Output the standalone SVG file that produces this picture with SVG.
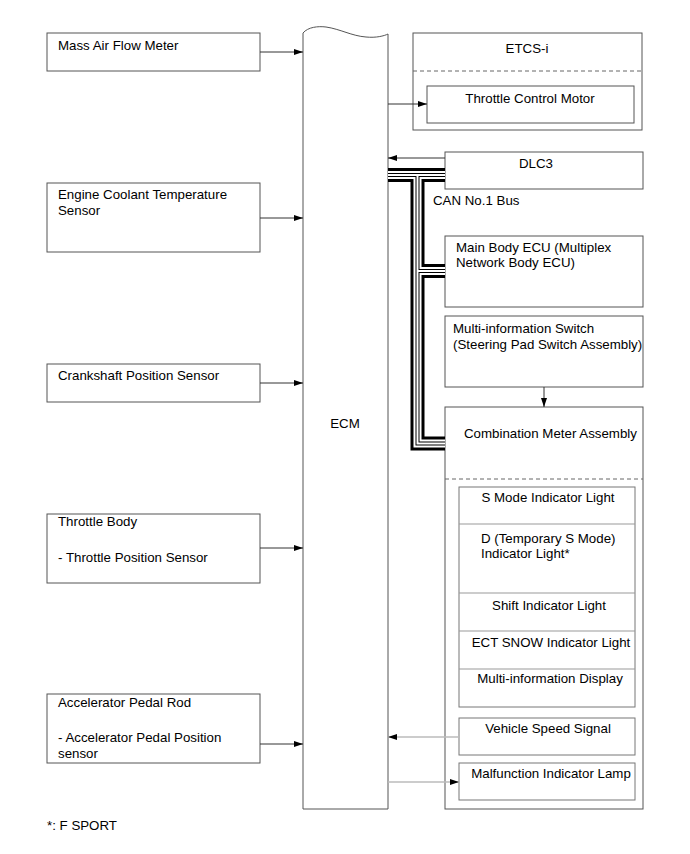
<svg xmlns="http://www.w3.org/2000/svg" xmlns:xlink="http://www.w3.org/1999/xlink" width="690" height="854" viewBox="0 0 690 854">
<style>
text{font-family:"Liberation Sans",Arial,sans-serif;font-size:13.3px;fill:#000}
.box{fill:#fff;stroke:#555;stroke-width:1}
.inner{fill:#fff;stroke:#777;stroke-width:1}
.div{stroke:#999;stroke-width:1;fill:none}
.dash{stroke:#666;stroke-width:1;stroke-dasharray:4,3;fill:none}
.c{stroke:#333;stroke-width:1;fill:none}
.cg{stroke:#bbb;stroke-width:1.5;fill:none}
.mid{text-anchor:middle}
.b1{stroke:#000;stroke-width:14;fill:none;stroke-linejoin:miter}
.b2{stroke:#fff;stroke-width:8;fill:none;stroke-linejoin:miter}
.b3{stroke:#000;stroke-width:4;fill:none;stroke-linejoin:miter}
.b4{stroke:#fff;stroke-width:2;fill:none;stroke-linejoin:miter}
</style>
<defs>
<marker id="ah" markerUnits="userSpaceOnUse" markerWidth="9" markerHeight="6" refX="9" refY="3" orient="auto">
<path d="M0,0 L9,3 L0,6 Z" fill="#000"/>
</marker>
<path id="bus" d="M388,175 H445 M417.5,175 V443.5 H445 M417.5,271 H445"/>
</defs>

<g id="ecm">
<path class="box" d="M303,809 V33 C308,27 318,26 326,27 C340,29 352,36 366,37 C376,38 384,36 388,34 V809 Z"/>
<text class="mid" x="345" y="428">ECM</text>
</g>

<g id="maf">
<rect class="box" x="47" y="33" width="213" height="38"/>
<text x="58" y="49.5">Mass Air Flow Meter</text>
</g>
<g id="ect">
<rect class="box" x="47" y="183" width="213" height="69"/>
<text x="58" y="199">Engine Coolant Temperature</text>
<text x="58" y="215">Sensor</text>
</g>
<g id="ckp">
<rect class="box" x="47" y="364" width="213" height="38"/>
<text x="58" y="379.5">Crankshaft Position Sensor</text>
</g>
<g id="throttle">
<rect class="box" x="47" y="514" width="213" height="69"/>
<text x="58" y="526">Throttle Body</text>
<text x="58" y="562">- Throttle Position Sensor</text>
</g>
<g id="accel">
<rect class="box" x="47" y="694" width="213" height="69"/>
<text x="58" y="707">Accelerator Pedal Rod</text>
<text x="58" y="742">- Accelerator Pedal Position</text>
<text x="58" y="758">sensor</text>
</g>

<g id="etcs">
<rect class="box" x="413" y="33" width="229" height="97"/>
<line class="dash" x1="413" y1="71" x2="642" y2="71"/>
<text class="mid" x="527" y="53">ETCS-i</text>
</g>
<g id="tcm">
<rect class="box" x="427" y="86" width="207" height="37"/>
<text class="mid" x="530" y="103">Throttle Control Motor</text>
</g>

<g id="dlc3">
<rect class="box" x="445" y="152" width="198" height="37"/>
<text class="mid" x="536" y="168">DLC3</text>
</g>
<g id="can">
<text x="433" y="205">CAN No.1 Bus</text>
</g>
<g id="mbecu">
<rect class="box" x="445" y="236" width="198" height="71"/>
<text x="456" y="252">Main Body ECU (Multiplex</text>
<text x="456" y="267">Network Body ECU)</text>
</g>
<g id="mis">
<rect class="box" x="445" y="316" width="198" height="71"/>
<text x="453" y="333">Multi-information Switch</text>
<text x="453" y="349">(Steering Pad Switch Assembly)</text>
</g>

<g id="meter">
<rect class="box" x="445" y="407" width="198" height="402"/>
<text x="464" y="438">Combination Meter Assembly</text>
<line class="dash" x1="445" y1="479" x2="643" y2="479"/>
</g>
<g id="lights">
<rect class="inner" x="459" y="487" width="176" height="220"/>
<line class="div" x1="459" y1="524" x2="635" y2="524"/>
<line class="div" x1="459" y1="593" x2="635" y2="593"/>
<line class="div" x1="459" y1="631" x2="635" y2="631"/>
<line class="div" x1="459" y1="669" x2="635" y2="669"/>
<text class="mid" x="548" y="502">S Mode Indicator Light</text>
<text x="481" y="543">D (Temporary S Mode)</text>
<text x="481" y="558">Indicator Light*</text>
<text class="mid" x="549" y="610">Shift Indicator Light</text>
<text class="mid" x="551" y="647">ECT SNOW Indicator Light</text>
<text class="mid" x="550" y="683">Multi-information Display</text>
</g>
<g id="vss">
<rect class="inner" x="459" y="718" width="176" height="37"/>
<text class="mid" x="548" y="733">Vehicle Speed Signal</text>
</g>
<g id="mil">
<rect class="inner" x="459" y="763" width="176" height="37"/>
<text class="mid" x="551" y="778">Malfunction Indicator Lamp</text>
</g>

<g id="connectors">
<path class="c" d="M260,52 H303" marker-end="url(#ah)"/>
<path class="c" d="M260,218 H303" marker-end="url(#ah)"/>
<path class="c" d="M260,383 H303" marker-end="url(#ah)"/>
<path class="c" d="M260,548 H303" marker-end="url(#ah)"/>
<path class="c" d="M260,744 H303" marker-end="url(#ah)"/>
<path class="c" d="M388,104 H427" marker-end="url(#ah)"/>
<path class="c" d="M445,158 H388" marker-end="url(#ah)"/>
<path class="c" d="M544,387 V407" marker-end="url(#ah)"/>
<path class="cg" d="M459,737 H388" marker-end="url(#ah)"/>
<path class="cg" d="M388,782 H459" marker-end="url(#ah)"/>
<use xlink:href="#bus" class="b1"/>
<use xlink:href="#bus" class="b2"/>
<use xlink:href="#bus" class="b3"/>
<use xlink:href="#bus" class="b4"/>
</g>

<text x="47" y="830">*: F SPORT</text>
</svg>
